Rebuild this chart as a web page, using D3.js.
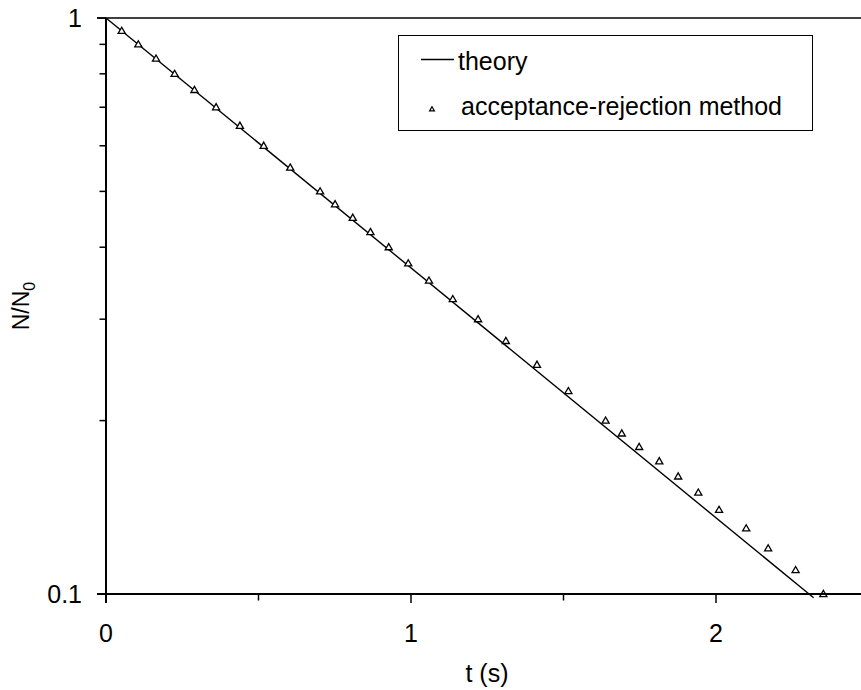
<!DOCTYPE html>
<html>
<head>
<meta charset="utf-8">
<script src="https://cdn.jsdelivr.net/npm/d3@7"></script>
<style>
  html, body { margin: 0; padding: 0; background: #fff; }
  svg { display: block; font-family: "Liberation Sans", Arial, sans-serif; }
</style>
</head>
<body>
<svg id="chart" width="861" height="690"></svg>
<script>
// ---- data ----
const simTimes = [0.0515, 0.106, 0.164, 0.225, 0.290, 0.361, 0.439, 0.517, 0.604, 0.702,
                  0.751, 0.809, 0.867, 0.927, 0.991, 1.059, 1.137, 1.220, 1.311, 1.413, 1.516, 1.638,
                  1.691, 1.748, 1.814, 1.876, 1.942, 2.010, 2.099, 2.171, 2.261, 2.352];
const simValues = [0.95, 0.90, 0.85, 0.80, 0.75, 0.70, 0.65, 0.60, 0.55, 0.50,
                   0.475, 0.45, 0.425, 0.40, 0.375, 0.35, 0.325, 0.30, 0.275, 0.25, 0.225, 0.20,
                   0.19, 0.18, 0.17, 0.16, 0.15, 0.14, 0.13, 0.12, 0.11, 0.10];
const theoryTimes = [0, 2.32];
const theoryValues = [1, 0.0985];
const xTicks = [0, 0.5, 1, 1.5, 2];
const xTickLabels = ["0", "", "1", "", "2"];
const yTicks = [0.1, 0.2, 0.3, 0.4, 0.5, 0.6, 0.7, 0.8, 0.9, 1];
const yTickLabels = ["0.1", "", "", "", "", "", "", "", "", "1"];
const seriesNames = ["theory", "acceptance-rejection method"];

// ---- layout ----
const svg = d3.select("#chart");
const mLeft = 106, mTop = 18, mBottom = 594, mRight = 861;
const x = d3.scaleLinear().domain([0, 2.5]).range([mLeft, mLeft + 762.5]);
const y = d3.scaleLog().domain([0.1, 1]).range([mBottom, mTop]);
const FONT = 25;

// top frame line
svg.append("line").attr("x1", mLeft - 9).attr("x2", mRight).attr("y1", mTop).attr("y2", mTop)
  .attr("stroke", "#000").attr("stroke-width", 1.3);

// theory line
const theory = theoryTimes.map((t, i) => [t, theoryValues[i]]);
svg.append("path").datum(theory)
  .attr("d", d3.line().x(d => x(d[0])).y(d => y(d[1])))
  .attr("fill", "none").attr("stroke", "#000").attr("stroke-width", 1.4);

// simulation markers (open triangles)
const tri = d3.symbol().type(d3.symbolTriangle).size(22);
svg.append("g").selectAll("path").data(simTimes.map((t, i) => [t, simValues[i]]))
  .join("path")
  .attr("d", tri)
  .attr("transform", d => `translate(${x(d[0])},${y(d[1]) + 0.5})`)
  .attr("fill", "#fff").attr("stroke", "#000").attr("stroke-width", 1.3);

// x axis
const gx = svg.append("g");
gx.append("line").attr("x1", mLeft - 9).attr("x2", mRight).attr("y1", mBottom).attr("y2", mBottom)
  .attr("stroke", "#000").attr("stroke-width", 1.8);
xTicks.forEach((t, i) => {
  const major = xTickLabels[i] !== "";
  gx.append("line").attr("x1", x(t)).attr("x2", x(t)).attr("y1", mBottom).attr("y2", mBottom + (major ? 9 : 6.5))
    .attr("stroke", "#000").attr("stroke-width", 1.5);
  if (major) gx.append("text").attr("x", x(t)).attr("y", 641.5).attr("text-anchor", "middle")
    .attr("font-size", FONT).text(xTickLabels[i]);
});

// y axis
const gy = svg.append("g");
gy.append("line").attr("x1", mLeft).attr("x2", mLeft).attr("y1", mTop).attr("y2", mBottom + 9)
  .attr("stroke", "#000").attr("stroke-width", 2);
yTicks.forEach((v, i) => {
  const major = yTickLabels[i] !== "";
  gy.append("line").attr("x1", mLeft - (major ? 9 : 6.5)).attr("x2", mLeft).attr("y1", y(v)).attr("y2", y(v))
    .attr("stroke", "#000").attr("stroke-width", 1.5);
  if (major) gy.append("text").attr("x", 82).attr("y", y(v)).attr("dy", "0.35em")
    .attr("text-anchor", "end").attr("font-size", FONT).text(yTickLabels[i]);
});

// axis titles
svg.append("text").attr("x", 487).attr("y", 682).attr("text-anchor", "middle")
  .attr("font-size", FONT).text("t (s)");
const yl = svg.append("text").attr("transform", "translate(29,306) rotate(-90)")
  .attr("text-anchor", "middle").attr("font-size", 23);
yl.append("tspan").text("N/N");
yl.append("tspan").attr("font-size", 16).attr("dy", 6).text("0");

// legend
const lg = svg.append("g");
lg.append("rect").attr("x", 398.5).attr("y", 35.5).attr("width", 414).attr("height", 95)
  .attr("fill", "#fff").attr("stroke", "#000").attr("stroke-width", 1);
lg.append("line").attr("x1", 421).attr("x2", 454).attr("y1", 59.5).attr("y2", 59.5)
  .attr("stroke", "#000").attr("stroke-width", 1.4);
lg.append("text").attr("x", 458).attr("y", 70).attr("font-size", FONT).text(seriesNames[0]);
lg.append("path").attr("d", d3.symbol().type(d3.symbolTriangle).size(10))
  .attr("transform", "translate(432,109.5)")
  .attr("fill", "#fff").attr("stroke", "#000").attr("stroke-width", 1.2);
lg.append("text").attr("x", 461).attr("y", 115).attr("font-size", FONT).text(seriesNames[1]);
</script>
</body>
</html>
